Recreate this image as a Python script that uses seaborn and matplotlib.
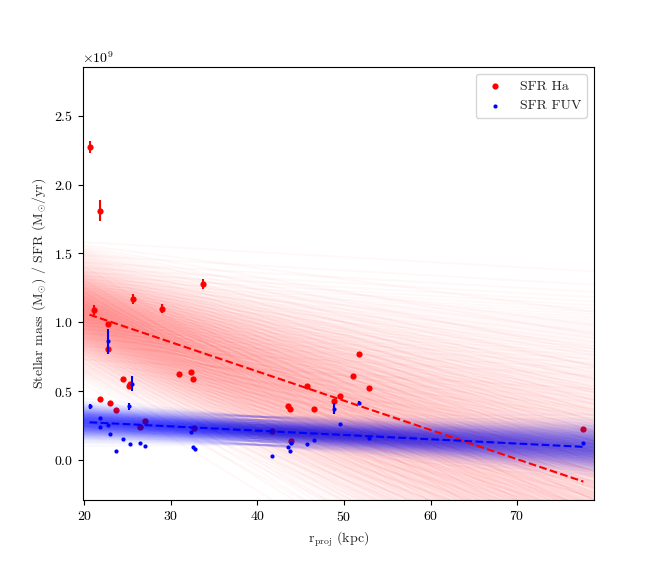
import numpy as np
import pandas as pd
import seaborn as sns
import matplotlib
matplotlib.use("Agg")
import matplotlib.pyplot as plt
from matplotlib.collections import LineCollection

sns.set_style("ticks")
plt.rcParams["font.family"] = ["cmr10", "DejaVu Serif"]
plt.rcParams["mathtext.fontset"] = "cm"
plt.rcParams["axes.formatter.use_mathtext"] = True
plt.rcParams["axes.unicode_minus"] = False
plt.rcParams["font.size"] = 10
plt.rcParams["xtick.labelsize"] = 10
plt.rcParams["ytick.labelsize"] = 10
plt.rcParams["axes.edgecolor"] = "black"
plt.rcParams["xtick.color"] = "black"
plt.rcParams["ytick.color"] = "black"

# values in units of 1e9 yr
ha_r = [20.58, 21.15, 21.85, 21.77, 22.69, 22.69, 22.92, 23.61, 24.42, 25.15, 25.23,
        25.57, 26.40, 26.95, 29.00, 30.88, 32.26, 32.60, 32.70, 33.65, 41.70, 43.57,
        43.80, 43.90, 45.76, 46.57, 48.87, 49.57, 51.07, 51.76, 52.90, 77.67]
ha_val = [2.273, 1.092, 1.810, 0.442, 0.985, 0.804, 0.418, 0.367, 0.587, 0.536, 0.556,
          1.170, 0.244, 0.287, 1.100, 0.623, 0.643, 0.587, 0.237, 1.280, 0.215, 0.391,
          0.374, 0.138, 0.541, 0.374, 0.432, 0.469, 0.614, 0.773, 0.527, 0.230]
ha_err = [0.045, 0.035, 0.075, 0.010, 0.015, 0.010, 0.010, 0.010, 0.010, 0.010, 0.010,
          0.035, 0.010, 0.010, 0.030, 0.010, 0.010, 0.010, 0.010, 0.035, 0.010, 0.010,
          0.010, 0.010, 0.010, 0.010, 0.010, 0.010, 0.010, 0.010, 0.010, 0.010]

fuv_r = [20.60, 21.77, 21.77, 22.70, 22.69, 22.92, 23.61, 24.42, 25.10, 25.23, 25.50,
         26.40, 26.95, 32.26, 32.60, 32.72, 41.72, 43.57, 43.80, 43.90, 45.76, 46.57,
         48.87, 49.57, 51.76, 52.90, 77.67]
fuv_val = [0.391, 0.309, 0.239, 0.258, 0.862, 0.188, 0.070, 0.157, 0.391, 0.121, 0.556,
           0.128, 0.106, 0.208, 0.099, 0.078, 0.027, 0.099, 0.070, 0.128, 0.121, 0.150,
           0.374, 0.266, 0.418, 0.162, 0.128]
fuv_err = [0.020, 0.005, 0.005, 0.005, 0.088, 0.005, 0.005, 0.005, 0.025, 0.005, 0.055,
           0.005, 0.005, 0.005, 0.005, 0.005, 0.005, 0.005, 0.005, 0.005, 0.005, 0.005,
           0.040, 0.005, 0.010, 0.005, 0.005]

# best-fit lines (endpoints at the extreme radii)
fit_r = [20.58, 77.67]
ha_fit = [1.056, -0.155]
fuv_fit = [0.275, 0.097]

# posterior line samples: value at a reference radius and slope (per kpc)
ha_pivot_r = 15.0
ha_samp_pivot = [0.748, 0.845, 0.897, 0.936, 0.967, 0.993, 1.017, 1.039, 1.059, 1.079,
                 1.097, 1.115, 1.132, 1.149, 1.166, 1.182, 1.199, 1.216, 1.233, 1.251,
                 1.269, 1.289, 1.309, 1.331, 1.355, 1.381, 1.412, 1.451, 1.503, 1.600]
ha_samp_slope = [-0.0388, -0.0342, -0.0316, -0.0296, -0.0280, -0.0266, -0.0253, -0.0241,
                 -0.0229, -0.0218, -0.0206, -0.0195, -0.0183, -0.0171, -0.0158, -0.0144,
                 -0.0128, -0.0108, -0.0082, -0.0036]
fuv_pivot_r = 40.0
fuv_samp_pivot = [0.112, 0.137, 0.151, 0.161, 0.170, 0.177, 0.184, 0.190, 0.195, 0.201,
                  0.206, 0.211, 0.217, 0.222, 0.227, 0.233, 0.238, 0.244, 0.251, 0.258,
                  0.266, 0.277, 0.291, 0.316]
fuv_samp_slope = [-0.0066, -0.0056, -0.0050, -0.0046, -0.0042, -0.0039, -0.0036, -0.0033,
                  -0.0030, -0.0027, -0.0024, -0.0020, -0.0016, -0.0011, -0.0006, 0.0004]

SCALE = 1e9


def sample_segments(pivots, slopes, r0, lo=10.0, hi=90.0):
    segs = []
    for p in pivots:
        for k in slopes:
            segs.append([(lo, (p + k * (lo - r0)) * SCALE), (hi, (p + k * (hi - r0)) * SCALE)])
    return segs


fig, ax = plt.subplots(figsize=(6.6, 5.62), dpi=100)

# H-alpha
ax.add_collection(LineCollection(sample_segments(ha_samp_pivot, ha_samp_slope, ha_pivot_r),
                                 colors="red", alpha=0.028, linewidths=1.5, zorder=2))
ax.errorbar(ha_r, np.array(ha_val) * SCALE, yerr=np.array(ha_err) * SCALE,
            fmt="none", ecolor="red", elinewidth=1.5, zorder=3)
sns.scatterplot(x=ha_r, y=np.array(ha_val) * SCALE, color="red", s=20, linewidth=0,
                label="SFR Ha", ax=ax, zorder=3)

# FUV
ax.add_collection(LineCollection(sample_segments(fuv_samp_pivot, fuv_samp_slope, fuv_pivot_r),
                                 colors="blue", alpha=0.028, linewidths=1.5, zorder=4))
ax.errorbar(fuv_r, np.array(fuv_val) * SCALE, yerr=np.array(fuv_err) * SCALE,
            fmt="none", ecolor="blue", elinewidth=1.5, zorder=5)
sns.scatterplot(x=fuv_r, y=np.array(fuv_val) * SCALE, color="blue", s=9, linewidth=0,
                label="SFR FUV", ax=ax, zorder=5)

ax.plot(fit_r, np.array(ha_fit) * SCALE, "--", color="red", lw=1.5, zorder=6)
ax.plot(fit_r, np.array(fuv_fit) * SCALE, "--", color="blue", lw=1.5, zorder=6)

ax.set_xlim(19.77, 78.9)
ax.set_ylim(-0.29e9, 2.85e9)
ax.set_xticks([20, 30, 40, 50, 60, 70])
ax.set_xlabel(r"r$_{\rm proj}$ (kpc)")
ax.set_ylabel(r"Stellar mass (M$_{\odot}$) / SFR (M$_{\odot}$/yr)")
ax.legend(loc="upper right")

plt.savefig("out.png", dpi=100)
